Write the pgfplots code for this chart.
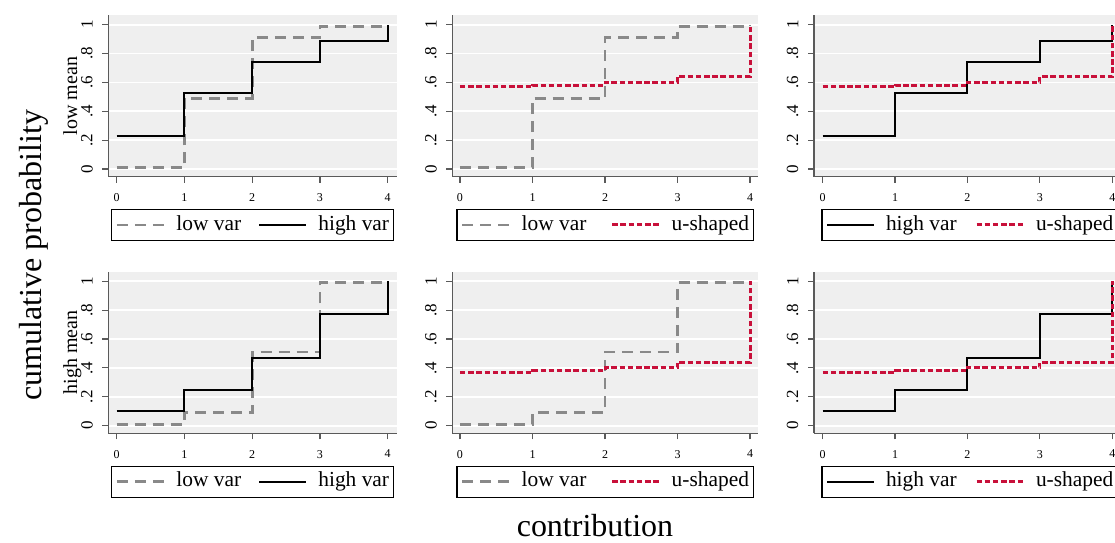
\documentclass[border=0pt]{standalone}
\usepackage{fontspec}
\setmainfont{Liberation Serif}
\usepackage{pgfplots}
\pgfplotsset{compat=1.18}
\definecolor{bgc}{RGB}{239,239,239}
\definecolor{axc}{RGB}{90,90,90}
\definecolor{lowc}{RGB}{137,137,137}
\definecolor{uc}{RGB}{200,16,58}
\pgfplotsset{
 panel/.style={
  anchor=south west, scale only axis, height=80.85pt,
  ymin=-0.053, ymax=1.067,
  axis background/.style={fill=bgc},
  axis x line*=bottom, axis y line*=left,
  axis line style={draw=axc, line width=0.7pt},
  xtick={0,1,2,3,4}, xticklabels={0,1,2,3,4},
  ytick={0,0.2,0.4,0.6,0.8,1}, yticklabels={0,.2,.4,.6,.8,1},
  tick align=outside, major tick length=3pt,
  tick style={draw=axc, line width=0.6pt},
  ymajorgrids, grid style={draw=white, line width=0.9pt},
  /pgf/number format/assume math mode=true,
  xticklabel style={font=\fontsize{6}{6}\selectfont, anchor=north, inner sep=0pt, yshift=-5.2pt},
  yticklabel style={xshift=-4.6pt, rotate=90, anchor=south, inner sep=0pt, font=\fontsize{8.5}{8.5}\selectfont},
  every axis y label/.style={at={(axis description cs:-0.1085,0.5)}, rotate=90, anchor=base, font=\fontsize{10}{10}\selectfont},
  legend columns=2,
  legend image code/.code={\draw[##1] (0pt,2.6pt) -- (23.5pt,2.6pt);},
  legend style={at={(0.5,0)}, anchor=north, yshift=-16.1pt, draw=black, line width=0.6pt, fill=white,
    font=\fontsize{10.7}{12}\selectfont, inner xsep=2pt, inner ysep=2.75pt, column sep=5.5pt,
    nodes={inner sep=0pt, text height=7.6pt, text depth=2.4pt, anchor=base west},
    /tikz/every even column/.append style={column sep=5.5pt}},
 },
 lowvar/.style={const plot, no marks, draw=lowc, line width=1.4pt, dash pattern=on 5.5pt off 3.5pt},
 highvar/.style={const plot, no marks, draw=black, line width=1pt},
 ushaped/.style={const plot, no marks, draw=uc, line width=1.5pt, dash pattern=on 2.75pt off 1.35pt},
}
\begin{document}
\begin{tikzpicture}
\path[use as bounding box] (0,0) rectangle (557.5pt,271pt);
\clip (0,0) rectangle (557.5pt,271pt);
% ---------- row 1 : low mean ----------
\begin{axis}[panel, at={(54.15pt,182.65pt)}, width=144.2pt, xmin=-0.124, xmax=4.133, ylabel={low mean}]
\addplot[lowvar] coordinates {(0,0.01) (1,0.49) (2,0.91) (3,0.99) (4,1)};
\addlegendentry{\makebox[35.5pt][l]{low var}}
\addplot[highvar] coordinates {(0,0.23) (1,0.53) (2,0.74) (3,0.89) (4,1)};
\addlegendentry{\makebox[35.5pt][l]{high var}}
\end{axis}
\begin{axis}[panel, at={(226.15pt,182.65pt)}, width=153pt, xmin=-0.106, xmax=4.114]
\addplot[lowvar] coordinates {(0,0.01) (1,0.49) (2,0.91) (3,0.99) (4,1)};
\addlegendentry{\makebox[39pt][l]{low var}}
\addplot[ushaped] coordinates {(0,0.57) (1,0.58) (2,0.60) (3,0.64) (4,1)};
\addlegendentry{\makebox[39pt][l]{u-shaped}}
\end{axis}
\begin{axis}[panel, at={(407pt,182.65pt)}, width=153pt, xmin=-0.12, xmax=4.107, legend style={xshift=1.5pt}]
\addplot[highvar] coordinates {(0,0.23) (1,0.53) (2,0.74) (3,0.89) (4,1)};
\addlegendentry{\makebox[39pt][l]{high var}}
\addplot[ushaped] coordinates {(0,0.57) (1,0.58) (2,0.60) (3,0.64) (4,1)};
\addlegendentry{\makebox[39pt][l]{u-shaped}}
\end{axis}
% ---------- row 2 : high mean ----------
\begin{axis}[panel, at={(54.15pt,54.35pt)}, width=144.2pt, xmin=-0.124, xmax=4.133, ylabel={high mean}]
\addplot[lowvar] coordinates {(0,0.01) (1,0.09) (2,0.51) (3,0.99) (4,1)};
\addlegendentry{\makebox[35.5pt][l]{low var}}
\addplot[highvar] coordinates {(0,0.10) (1,0.25) (2,0.47) (3,0.77) (4,1)};
\addlegendentry{\makebox[35.5pt][l]{high var}}
\end{axis}
\begin{axis}[panel, at={(226.15pt,54.35pt)}, width=153pt, xmin=-0.106, xmax=4.114]
\addplot[lowvar] coordinates {(0,0.01) (1,0.09) (2,0.51) (3,0.99) (4,1)};
\addlegendentry{\makebox[39pt][l]{low var}}
\addplot[ushaped] coordinates {(0,0.37) (1,0.38) (2,0.40) (3,0.44) (4,1)};
\addlegendentry{\makebox[39pt][l]{u-shaped}}
\end{axis}
\begin{axis}[panel, at={(407pt,54.35pt)}, width=153pt, xmin=-0.12, xmax=4.107, legend style={xshift=1.5pt}]
\addplot[highvar] coordinates {(0,0.10) (1,0.25) (2,0.47) (3,0.77) (4,1)};
\addlegendentry{\makebox[39pt][l]{high var}}
\addplot[ushaped] coordinates {(0,0.37) (1,0.38) (2,0.40) (3,0.44) (4,1)};
\addlegendentry{\makebox[39pt][l]{u-shaped}}
\end{axis}
\node[rotate=90, anchor=base, font=\fontsize{16}{16}\selectfont] at (20.85pt,143.5pt) {cumulative probability};
\node[anchor=base, font=\fontsize{16}{16}\selectfont] at (297.5pt,2.6pt) {contribution};
\end{tikzpicture}
\end{document}
